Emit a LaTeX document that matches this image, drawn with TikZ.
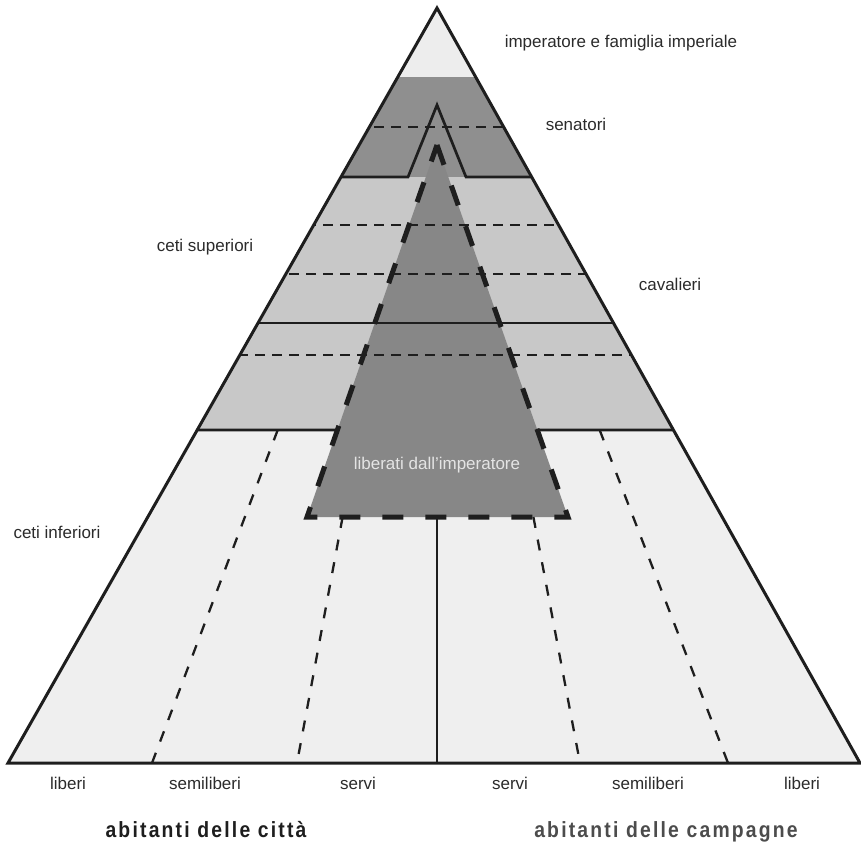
\documentclass[tikz,border=0pt]{standalone}
\usepackage{fontspec}
\setmainfont{Liberation Sans}
\usetikzlibrary{calc}
\definecolor{capgray}{HTML}{EDEDED}
\definecolor{sengray}{HTML}{8F8F8F}
\definecolor{supgray}{HTML}{C8C8C8}
\definecolor{infgray}{HTML}{EFEFEF}
\definecolor{libgray}{HTML}{878787}
\definecolor{libtext}{HTML}{E4E4E4}
\definecolor{ink}{HTML}{1E1E1E}
\definecolor{labelink}{HTML}{2B2B2B}

\begin{document}
\begin{tikzpicture}[x=1pt,y=-1pt,
	lbl/.style={text=labelink,inner sep=0pt,font=\fontsize{17}{20}\selectfont},
	band/.style={line width=2.7pt,draw=ink},
	dashband/.style={line width=2.5pt,draw=ink,dash pattern=on 10pt off 7pt},
	ray/.style={line width=2.3pt,draw=ink,dash pattern=on 11pt off 12pt},
	group/.style={inner sep=0pt,font=\fontsize{22}{26}\selectfont\bfseries\addfontfeatures{FakeStretch=0.88,LetterSpace=10}}]
	\useasboundingbox (0,0) rectangle (861,847);
	\coordinate (apex) at (437,8);
	\coordinate (bl) at (8,763);
	\coordinate (br) at (860,763);
	\coordinate (ltop) at (437,145);
	\coordinate (lleft) at (307,517);
	\coordinate (lright) at (568,517);

	\begin{scope}
		\clip (apex) -- (bl) -- (br) -- cycle;
		\fill[capgray] (0,0) rectangle (861,77);
		\fill[sengray] (0,77) rectangle (861,177);
		\fill[supgray] (0,177) rectangle (861,430);
		\fill[infgray] (0,430) rectangle (861,763);
		\fill[libgray] (ltop) -- (lleft) -- (lright) -- cycle;
		\draw[dashband] (0,127) -- (861,127);
		\draw[dashband] (0,225) -- (861,225);
		\draw[dashband] (0,274) -- (861,274);
		\draw[dashband] (0,355) -- (861,355);
		\draw[band] (0,323) -- (861,323);
		\draw[band] (0,177) -- (408,177) -- (437,105) -- (466,177) -- (861,177);
		\draw[band] (0,430) -- ($(ltop)!{285/372}!(lleft)$);
		\draw[band] ($(ltop)!{285/372}!(lright)$) -- (861,430);
	\end{scope}

	\foreach \bx/\ty in {152/430, 297/517, 580/517, 728/430}
		\draw[ray] ($(apex)!{(\ty-8)/755}!(\bx,763)$) -- (\bx,763);
	\draw[band] (437,517) -- (437,763);
	\draw[line width=5pt,draw=ink,dash pattern=on 21pt off 22pt] (ltop) -- (lright) -- (lleft) -- cycle;
	\draw[line width=3pt,draw=ink] (apex) -- (bl) -- (br) -- cycle;

	\node[lbl] (emperor) at (621,43) {imperatore e famiglia imperiale};
	\node[lbl] (senators) at (576,124) {senatori};
	\node[lbl] (upper) at (205,247) {ceti superiori};
	\node[lbl] (knights) at (670,284) {cavalieri};
	\node[lbl] (lower) at (57,532) {ceti inferiori};
	\node[lbl,text=libtext] (freedmen) at (437,465) {liberati dall'imperatore};
	\foreach \x/\t [count=\i] in {68/liberi,205/semiliberi,358/servi,510/servi,648/semiliberi,802/liberi}
		\node[lbl] (status\i) at (\x,783) {\t};
	\node[group,text=ink] (city) at (206,830) {abitanti delle città};
	\node[group,text=black!70] (country) at (666,832) {abitanti delle campagne};
\end{tikzpicture}
\end{document}
